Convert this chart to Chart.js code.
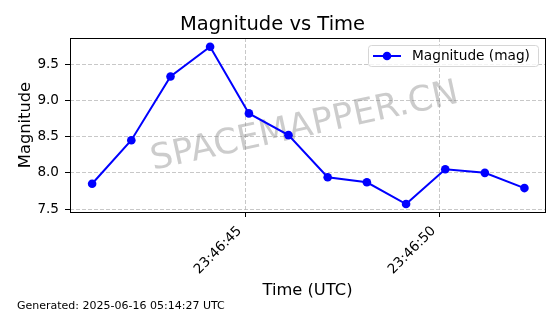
<!DOCTYPE html>
<html>
<head>
<meta charset="utf-8">
<script src="https://cdn.jsdelivr.net/npm/chart.js@4/dist/chart.umd.min.js"></script>
<style>
  html, body { margin: 0; padding: 0; background: #fff; }
  #wrap { width: 560px; height: 314px; }
</style>
</head>
<body>
<div id="wrap"><canvas id="magChart" width="560" height="314"></canvas></div>
<script>
// seconds past 23:46:00 UTC for each observation
const timeSeconds = [41.06, 42.07, 43.08, 44.1, 45.1, 46.12, 47.13, 48.14, 49.15, 50.16, 51.18, 52.2];
const magnitudes = [7.85, 8.45, 9.33, 9.74, 8.82, 8.52, 7.94, 7.87, 7.57, 8.05, 8.0, 7.79];
const xTickSeconds = [45, 50];
const yTickValues = [7.5, 8.0, 8.5, 9.0, 9.5];

const FONT = "'DejaVu Sans', sans-serif";
const gridColor = "rgba(176, 176, 176, 0.7)";

// frame, watermark, legend and footer text drawn on top of Chart.js
const extras = {
  id: "extras",
  beforeDatasetsDraw(chart) {
    const ctx = chart.ctx;
    ctx.save();
    ctx.translate(306.7, 136);
    ctx.rotate(-12.4 * Math.PI / 180);
    ctx.font = "35px " + FONT;
    ctx.fillStyle = "rgba(128, 128, 128, 0.4)";
    ctx.textAlign = "center";
    ctx.textBaseline = "alphabetic";
    ctx.fillText("SPACEMAPPER.CN", 0, 0);
    ctx.restore();
  },
  afterDraw(chart) {
    const ctx = chart.ctx;
    const a = chart.chartArea;
    ctx.save();
    // axes box
    ctx.strokeStyle = "#000";
    ctx.lineWidth = 1;
    ctx.strokeRect(Math.round(a.left) + 0.5, Math.round(a.top) + 0.5,
      Math.round(a.right - a.left), Math.round(a.bottom - a.top));

    // legend
    const ds = chart.data.datasets[0];
    const bx = 368, by = 45, bw = 170, bh = 21;
    ctx.fillStyle = "rgba(255,255,255,0.8)";
    ctx.strokeStyle = "#d6d6d6";
    ctx.beginPath();
    ctx.roundRect(bx + 0.5, by + 0.5, bw, bh, 3);
    ctx.fill();
    ctx.stroke();
    const ly = by + bh / 2 + 0.5;
    ctx.strokeStyle = ds.borderColor;
    ctx.lineWidth = ds.borderWidth;
    ctx.beginPath();
    ctx.moveTo(373, ly);
    ctx.lineTo(401, ly);
    ctx.stroke();
    ctx.fillStyle = ds.pointBackgroundColor;
    ctx.beginPath();
    ctx.arc(387, ly, ds.pointRadius, 0, Math.PI * 2);
    ctx.fill();
    ctx.fillStyle = "#000";
    ctx.font = "13.7px " + FONT;
    ctx.textAlign = "left";
    ctx.textBaseline = "middle";
    ctx.fillText(ds.label, 412, ly);

    // footer
    ctx.font = "11px " + FONT;
    ctx.textBaseline = "alphabetic";
    ctx.fillText("Generated: 2025-06-16 05:14:27 UTC", 17, 308.5);
    ctx.restore();
  }
};

const ctx = document.getElementById("magChart").getContext("2d");

new Chart(ctx, {
  type: "line",
  data: {
    datasets: [
      {
        label: "Magnitude (mag)",
        data: timeSeconds.map((t, i) => ({ x: t, y: magnitudes[i] })),
        borderColor: "#0000ff",
        backgroundColor: "#0000ff",
        pointBackgroundColor: "#0000ff",
        pointBorderWidth: 0,
        pointRadius: 4.3,
        borderWidth: 2,
        tension: 0,
        fill: false,
      },
    ],
  },
  options: {
    responsive: false,
    animation: false,
    devicePixelRatio: 1,
    layout: { padding: { left: 0, right: 15, top: 0, bottom: 0 } },
    plugins: {
      legend: { display: false },
      tooltip: { enabled: false },
      title: {
        display: true,
        text: "Magnitude vs Time",
        color: "#000",
        font: { family: FONT, size: 19.5, weight: "normal", lineHeight: 1.2 },
        padding: { top: 13, bottom: 1.6 },
      },
    },
    scales: {
      x: {
        type: "linear",
        min: 40.49,
        max: 52.73,
        afterBuildTicks(scale) {
          scale.ticks = xTickSeconds.map((v) => ({ value: v }));
        },
        afterFit(scale) {
          scale.height = 102;
        },
        ticks: {
          color: "#000",
          font: { family: FONT, size: 13.6 },
          minRotation: 45,
          maxRotation: 45,
          padding: 6,
          labelOffset: -5.4,
          callback: (v) => "23:46:" + String(v).padStart(2, "0"),
        },
        grid: {
          color: gridColor,
          tickColor: "#000",
          tickLength: 5,
          tickBorderDash: [],
        },
        border: { display: false, dash: [4, 2] },
        title: {
          display: true,
          text: "Time (UTC)",
          color: "#000",
          font: { family: FONT, size: 16.3 },
          padding: { top: 0, bottom: 13.5 },
        },
      },
      y: {
        type: "linear",
        min: 7.46,
        max: 9.86,
        afterBuildTicks(scale) {
          scale.ticks = yTickValues.map((v) => ({ value: v }));
        },
        afterFit(scale) {
          scale.width = 70;
        },
        ticks: {
          color: "#000",
          font: { family: FONT, size: 13.6 },
          padding: 6,
          callback: (v) => v.toFixed(1),
        },
        grid: {
          color: gridColor,
          tickColor: "#000",
          tickLength: 5,
          tickBorderDash: [],
        },
        border: { display: false, dash: [4, 2] },
        title: {
          display: true,
          text: "Magnitude",
          color: "#000",
          font: { family: FONT, size: 16.3 },
          padding: { top: 15.5, bottom: 0 },
        },
      },
    },
  },
  plugins: [extras],
});
</script>
</body>
</html>
